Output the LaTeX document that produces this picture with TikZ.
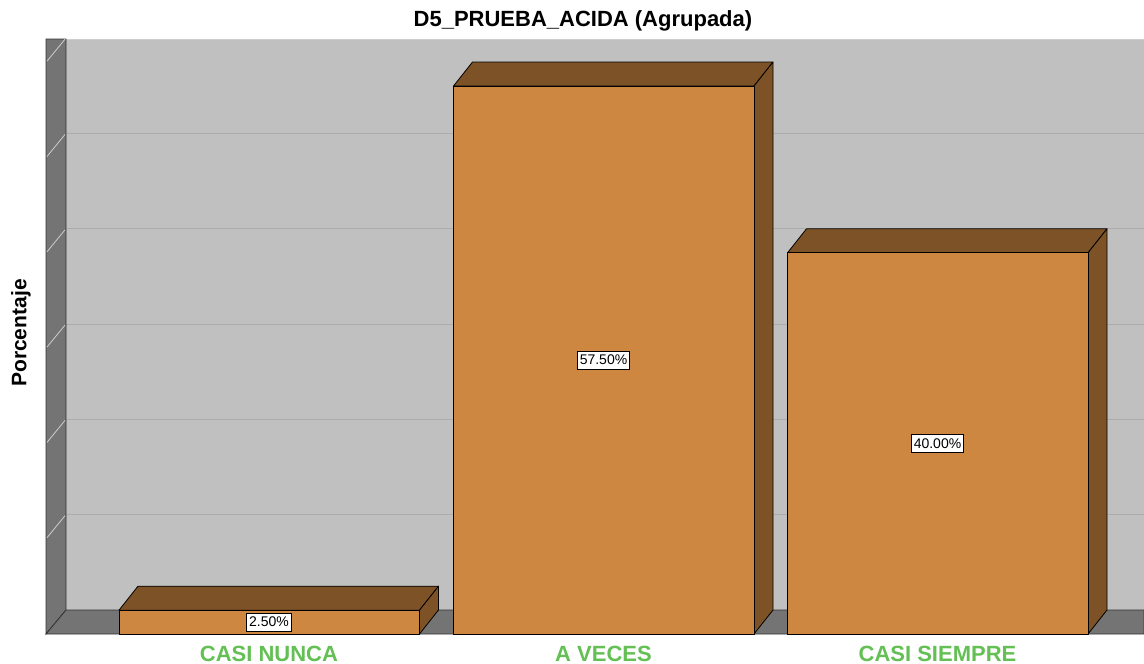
\documentclass[tikz,border=0pt]{standalone}
\usepackage{fontspec}
\setmainfont{Liberation Sans}
\definecolor{backw}{RGB}{192,192,192}
\definecolor{wallg}{RGB}{116,116,116}
\definecolor{barfront}{RGB}{205,135,64}
\definecolor{barside}{RGB}{125,82,38}
\definecolor{catgreen}{RGB}{100,192,84}
\definecolor{gridc}{RGB}{172,172,172}
\definecolor{tickc}{RGB}{205,205,205}
\tikzset{
  barface/.style={fill=barfront, draw=black, line width=0.8pt, line join=round},
  bartop/.style={fill=barside, draw=black, line width=0.8pt, line join=round},
  valbox/.style={fill=white, draw=black, line width=0.8pt, inner xsep=2.5pt, inner ysep=4pt, font=\fontsize{14}{16}\selectfont},
  catlab/.style={text=catgreen, font=\fontsize{22}{26}\selectfont\bfseries},
  titlelab/.style={font=\fontsize{22}{26}\selectfont\bfseries},
  axlab/.style={font=\fontsize{21}{25}\selectfont\bfseries, rotate=90},
  gridline/.style={gridc, line width=0.8pt},
  walltick/.style={tickc, line width=0.8pt}
}
\begin{document}
\begin{tikzpicture}[x=1pt,y=-1pt]
\useasboundingbox[fill=white] (0,0) rectangle (1144,664);
% back wall
\fill[backw] (66,39) rectangle (1144,610);
\draw[gridc!60!white, line width=0.8pt] (66,39) -- (1144,39);
\foreach \k in {1,...,5} {
  \draw[gridline] (66,{610-95.3*\k}) -- (1144,{610-95.3*\k});
}
% left wall
\filldraw[fill=wallg, draw=black!80, line width=0.8pt] (46,39) -- (66,39) -- (66,610) -- (46,634) -- cycle;
\foreach \k in {1,...,6} {
  \draw[walltick] (47,{610-95.3*\k+23}) -- (65,{610-95.3*\k+1});
}
% floor
\filldraw[fill=wallg, draw=black!80, line width=0.8pt] (46,634) -- (66,610) -- (1144,610) -- (1144,634) -- cycle;
% bars
\foreach \n/\xa/\v/\lab/\cat in {a/119/2.5/2.50\%/CASI NUNCA, b/453.5/57.5/57.50\%/A VECES, c/787.5/40/40.00\%/CASI SIEMPRE} {
  \pgfmathsetmacro\yt{634-\v*9.53}
  \pgfmathsetmacro\xb{\xa+300.5}
  \coordinate (f\n) at (\xa,\yt);
  \coordinate (g\n) at (\xb,634);
  \filldraw[bartop] (\xa,\yt) -- ({\xa+19},{\yt-24}) -- ({\xb+19},{\yt-24}) -- (\xb,\yt) -- cycle;
  \filldraw[bartop] (\xb,\yt) -- ({\xb+19},{\yt-24}) -- ({\xb+19},610) -- (\xb,634) -- cycle;
  \filldraw[barface] (f\n) rectangle (g\n);
  \node[valbox] (v\n) at ({\xa+150},{(\yt+634)/2}) {\lab};
  \node[catlab] (c\n) at ({\xa+150},654) {\cat};
}
\node[titlelab] (title) at (583,21) {D5\_PRUEBA\_ACIDA (Agrupada)};
\node[axlab] (ylab) at (21,333) {Porcentaje};
\end{tikzpicture}
\end{document}
